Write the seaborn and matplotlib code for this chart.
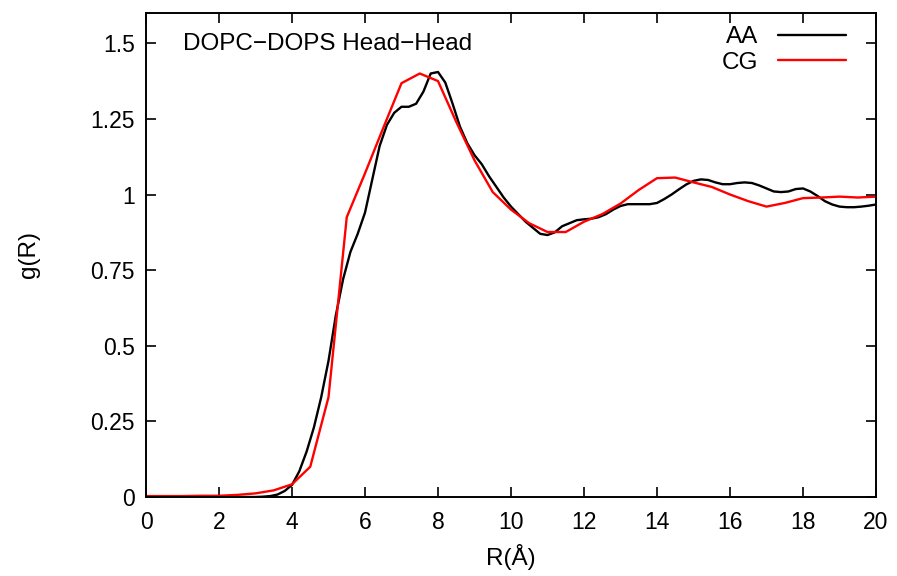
import numpy as np
import pandas as pd
import matplotlib
matplotlib.use("Agg")
import matplotlib.pyplot as plt
import seaborn as sns

# AA data (0.2 A sampling)
r_aa = [round(0.2 * i, 1) for i in range(101)]
g_aa = [0.0] * 16 + [
    0.001, 0.003, 0.008, 0.02, 0.04, 0.085, 0.15, 0.23, 0.33, 0.45,
    0.60, 0.72, 0.81, 0.87, 0.94, 1.05, 1.16, 1.23, 1.27, 1.29,
    1.29, 1.30, 1.34, 1.40, 1.405, 1.37, 1.30, 1.225, 1.17, 1.13,
    1.10, 1.06, 1.025, 0.99, 0.96, 0.935, 0.91, 0.89, 0.87, 0.866,
    0.875, 0.895, 0.905, 0.915, 0.918, 0.92, 0.925, 0.935, 0.95, 0.962,
    0.968, 0.968, 0.968, 0.968, 0.972, 0.985, 1.0, 1.017, 1.033, 1.045,
    1.05, 1.048, 1.04, 1.034, 1.034, 1.038, 1.04, 1.038, 1.03, 1.02,
    1.01, 1.008, 1.01, 1.018, 1.02, 1.01, 0.995, 0.978, 0.967, 0.96,
    0.958, 0.958, 0.96, 0.963, 0.967,
]

# CG data (0.5 A sampling)
r_cg = [0.5 * i for i in range(41)]
g_cg = [
    0.003, 0.003, 0.003, 0.004, 0.004, 0.007, 0.012, 0.022, 0.042, 0.10,
    0.33, 0.925, 1.07, 1.22, 1.368, 1.40, 1.375, 1.24, 1.113, 1.008,
    0.95, 0.905, 0.876, 0.876, 0.91, 0.935, 0.97, 1.015, 1.054, 1.056,
    1.04, 1.025, 1.0, 0.978, 0.96, 0.972, 0.988, 0.99, 0.993, 0.99, 0.993,
]

xticks = [0, 2, 4, 6, 8, 10, 12, 14, 16, 18, 20]
yticks = [0, 0.25, 0.5, 0.75, 1.0, 1.25, 1.5]
ytick_labels = ["0", "0.25", "0.5", "0.75", "1", "1.25", "1.5"]

df = pd.concat([
    pd.DataFrame({"R": r_aa, "g": g_aa, "series": "AA"}),
    pd.DataFrame({"R": r_cg, "g": g_cg, "series": "CG"}),
], ignore_index=True)

sns.set_style("ticks")
plt.rcParams["font.family"] = ["Liberation Sans", "DejaVu Sans"]
plt.rcParams["text.color"] = "black"
plt.rcParams["axes.labelcolor"] = "black"
plt.rcParams["xtick.color"] = "black"
plt.rcParams["ytick.color"] = "black"

FS = 17.5
TFS = 16.5

fig = plt.figure(figsize=(8.97, 5.76), dpi=100)
ax = fig.add_axes([146 / 897, 1 - 497 / 576, 730 / 897, 484 / 576])

sns.lineplot(data=df, x="R", y="g", hue="series",
             palette={"AA": "black", "CG": "#ff0000"},
             linewidth=1.7, ax=ax, estimator=None, sort=False)

ax.set_xlim(0, 20)
ax.set_ylim(0, 1.6)
ax.set_xticks(xticks)
ax.set_yticks(yticks)
ax.set_yticklabels(ytick_labels)
ax.tick_params(direction="in", length=7, width=1.2, top=True, right=True,
               labelsize=TFS, colors="black")
ax.tick_params(axis="x", pad=10)
ax.tick_params(axis="y", pad=8)
for s in ax.spines.values():
    s.set_linewidth(1.4)
    s.set_color("black")

ax.set_xlabel("R(Å)", fontsize=FS, color="black")
ax.set_ylabel("g(R)", fontsize=FS, color="black")
ax.xaxis.set_label_coords(0.5, -0.098)
ax.yaxis.set_label_coords(-0.145, 0.5)

ax.text(0.0507, 0.936, "DOPC\u2212DOPS Head\u2212Head", transform=ax.transAxes,
        fontsize=FS, va="center", ha="left", color="black")

leg = ax.legend(loc="upper right", bbox_to_anchor=(0.972, 0.993),
                borderaxespad=0, frameon=False, markerfirst=False,
                fontsize=FS, handlelength=2.8, handletextpad=0.8,
                labelspacing=0.15, borderpad=0.4)
leg.set_title(None)
for t in leg.get_texts():
    t.set_color("black")

fig.savefig("out.png", dpi=100)
